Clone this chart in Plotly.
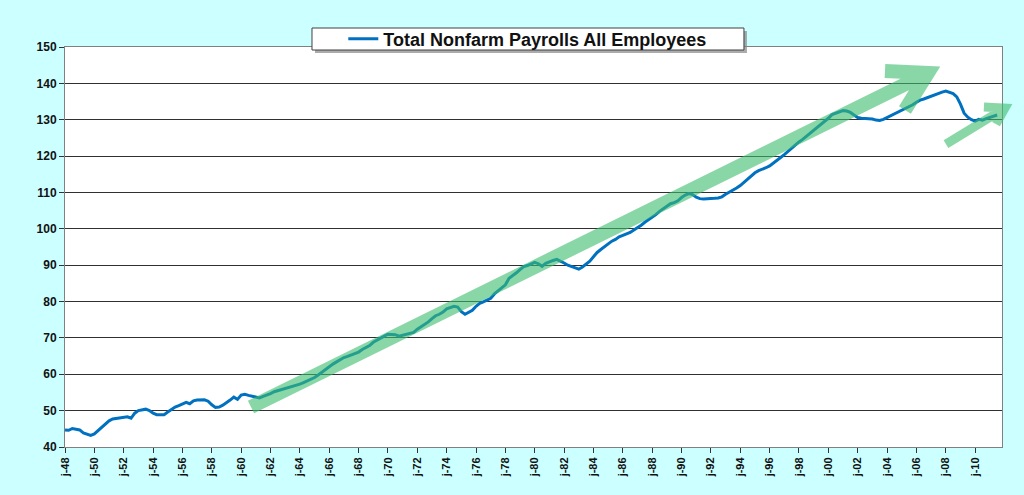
import plotly.graph_objects as go

# Total nonfarm payrolls, millions, quarterly readings (Jan, Apr, Jul, Oct)
years = list(range(1948, 2012))
payrolls = [
    44.7, 44.6, 45.1, 45.0,     # 1948
    44.7, 43.9, 43.6, 43.2,     # 1949
    43.6, 44.5, 45.5, 46.4,     # 1950
    47.2, 47.7, 47.8, 47.9,     # 1951
    48.1, 48.3, 47.9, 49.3,     # 1952
    50.0, 50.3, 50.4, 50.0,     # 1953
    49.3, 48.9, 48.8, 48.9,     # 1954
    49.6, 50.3, 51.0, 51.4,     # 1955
    51.9, 52.3, 51.9, 52.7,     # 1956
    52.9, 53.0, 53.0, 52.6,     # 1957
    51.6, 50.9, 51.0, 51.5,     # 1958
    52.1, 52.9, 53.7, 53.1,     # 1959
    54.3, 54.5, 54.2, 54.0,     # 1960
    53.6, 53.5, 53.9, 54.2,     # 1961
    54.7, 55.2, 55.5, 55.6,     # 1962
    55.9, 56.3, 56.6, 57.0,     # 1963
    57.3, 57.7, 58.2, 58.5,     # 1964
    59.1, 59.8, 60.6, 61.3,     # 1965
    62.1, 62.8, 63.4, 64.0,     # 1966
    64.6, 64.9, 65.3, 65.7,     # 1967
    66.1, 66.8, 67.4, 67.9,     # 1968
    68.8, 69.4, 70.1, 70.5,     # 1969
    71.0, 71.0, 70.9, 70.5,     # 1970
    70.7, 70.9, 71.2, 71.5,     # 1971
    72.4, 73.1, 73.6, 74.4,     # 1972
    75.3, 76.1, 76.5, 77.1,     # 1973
    78.0, 78.3, 78.7, 78.5,     # 1974
    77.2, 76.5, 77.0, 77.6,     # 1975
    78.7, 79.5, 79.9, 80.3,     # 1976
    80.9, 82.1, 82.9, 83.8,     # 1977
    84.6, 86.4, 87.1, 87.9,     # 1978
    88.8, 89.6, 89.9, 90.3,     # 1979
    90.8, 90.4, 89.7, 90.5,     # 1980
    91.0, 91.3, 91.6, 91.2,     # 1981
    90.6, 90.0, 89.6, 89.1,     # 1982
    88.9, 89.5, 90.3, 91.1,     # 1983
    92.3, 93.5, 94.3, 95.1,     # 1984
    95.8, 96.6, 97.1, 97.8,     # 1985
    98.2, 98.6, 99.0, 99.7,     # 1986
    100.3, 101.0, 101.8, 102.5, # 1987
    103.1, 103.9, 104.8, 105.5, # 1988
    106.3, 106.9, 107.2, 107.7, # 1989
    108.6, 109.3, 109.7, 109.4, # 1990
    108.7, 108.3, 108.2, 108.2, # 1991
    108.3, 108.4, 108.5, 108.8, # 1992
    109.5, 110.0, 110.6, 111.2, # 1993
    111.9, 112.8, 113.7, 114.6, # 1994
    115.4, 116.0, 116.3, 116.8, # 1995
    117.3, 118.0, 118.8, 119.6, # 1996
    120.4, 121.3, 122.1, 123.0, # 1997
    123.9, 124.6, 125.4, 126.2, # 1998
    127.0, 127.8, 128.6, 129.4, # 1999
    130.4, 131.4, 131.7, 132.1, # 2000
    132.5, 132.4, 132.0, 131.3, # 2001
    130.6, 130.4, 130.4, 130.3, # 2002
    130.2, 129.9, 129.8, 130.1, # 2003
    130.6, 131.1, 131.5, 132.0, # 2004
    132.5, 133.1, 133.7, 134.1, # 2005
    134.8, 135.4, 135.7, 136.1, # 2006
    136.6, 137.0, 137.3, 137.6, # 2007
    137.9, 137.6, 137.2, 136.3, # 2008
    134.3, 131.8, 130.7, 130.0, # 2009
    129.6, 130.1, 129.9, 130.3, # 2010
    130.6, 131.1, 131.3,        # 2011
]
quarters = [y + q / 4 for y in years for q in range(4)][:len(payrolls)]

tick_years = list(range(1948, 2011, 2))
tick_labels = ["j-%02d" % (y % 100) for y in tick_years]

x_range = [1948, 2011.83]
y_range = [40, 150]

# hand drawn trend arrows (year, value): shaft start, tip, two head wings
big_arrow = [(1960.67, 51.0), (2006.79, 142.85), (2003.86, 143.4), (2005.22, 132.7)]
small_arrow = [(2008.01, 123.3), (2012.03, 133.2), (2010.60, 133.5), (2011.42, 128.8)]


def to_paper(pt):
    px = (pt[0] - x_range[0]) / (x_range[1] - x_range[0])
    py = (pt[1] - y_range[0]) / (y_range[1] - y_range[0])
    return "%.4f,%.4f" % (px, py)


def arrow_path(a):
    s, tip, w1, w2 = [to_paper(p) for p in a]
    return "M %s L %s M %s L %s L %s" % (s, tip, w1, tip, w2)


fig = go.Figure()
fig.add_trace(
    go.Scatter(
        x=quarters,
        y=payrolls,
        mode="lines",
        name="Total Nonfarm Payrolls All Employees",
        line=dict(color="#0070C0", width=3),
    )
)

green = "rgb(60,190,110)"
for a, w in [(big_arrow, 14), (small_arrow, 9)]:
    fig.add_shape(
        type="path",
        xref="paper",
        yref="paper",
        path=arrow_path(a),
        line=dict(color=green, width=w),
        opacity=0.6,
        layer="above",
    )

# legend frame with a drop shadow (drawn under the transparent legend)
fig.add_shape(type="rect", xref="paper", yref="paper",
              x0=0.2668, x1=0.7278, y0=0.985, y1=1.040,
              fillcolor="#888888", line=dict(width=0), opacity=0.7, layer="above")
fig.add_shape(type="rect", xref="paper", yref="paper",
              x0=0.2636, x1=0.7246, y0=0.9925, y1=1.0475,
              fillcolor="white", line=dict(color="#404040", width=1), layer="above")

fig.update_layout(
    width=1024,
    height=495,
    margin=dict(l=65, r=22, t=47, b=48),
    paper_bgcolor="#CCFFFF",
    plot_bgcolor="white",
    font=dict(family="Liberation Sans, Arial", color="#111111"),
    showlegend=True,
    legend=dict(
        x=0.297,
        y=1.02,
        xanchor="left",
        yanchor="middle",
        bgcolor="rgba(0,0,0,0)",
        borderwidth=0,
        font=dict(size=18, weight="bold", color="#111111"),
        itemwidth=30,
    ),
)

fig.update_xaxes(
    range=x_range,
    tickmode="array",
    tickvals=tick_years,
    ticktext=tick_labels,
    tickangle=-90,
    tickfont=dict(size=11, weight="bold"),
    ticks="outside",
    ticklen=5,
    tickcolor="#333333",
    showgrid=False,
    showline=True,
    linecolor="#808080",
    linewidth=1,
    mirror=True,
    zeroline=False,
)
fig.update_yaxes(
    range=y_range,
    dtick=10,
    tickfont=dict(size=12, weight="bold"),
    ticks="outside",
    ticklen=5,
    tickcolor="#333333",
    showgrid=True,
    gridcolor="#303030",
    gridwidth=1,
    showline=True,
    linecolor="#808080",
    linewidth=1,
    mirror=True,
    zeroline=False,
)

fig.write_html(
    "out.html",
    config={"displayModeBar": False},
    post_script="document.body.style.margin='0';",
)
